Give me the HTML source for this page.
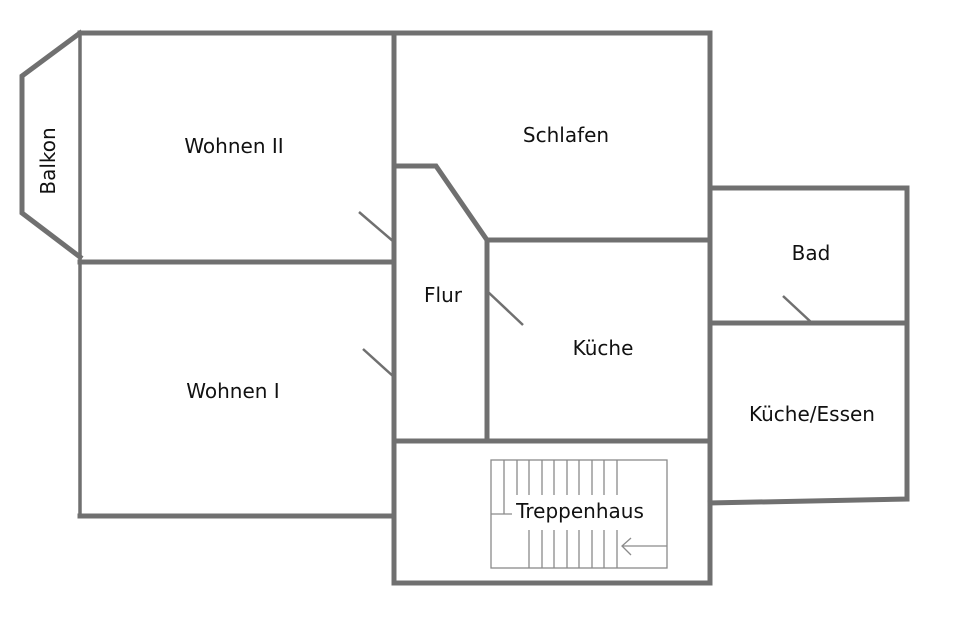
<!DOCTYPE html>
<html><head><meta charset="utf-8"><style>
html,body{margin:0;padding:0;background:#fff;}
svg{display:block}
text{font-family:"DejaVu Sans","Liberation Sans",sans-serif;font-size:20px;fill:#111;}
</style></head><body>
<svg width="960" height="640" viewBox="0 0 960 640" xmlns="http://www.w3.org/2000/svg">
<g stroke="#707070" stroke-width="5" fill="none" stroke-linecap="square">
<polyline points="80,33 22,76 22,213 80,257"/>
<line x1="80" y1="33" x2="80" y2="516" stroke-width="3.5"/>
<line x1="80" y1="33" x2="710" y2="33"/>
<line x1="80" y1="262" x2="394" y2="262"/>
<line x1="80" y1="516" x2="394" y2="516"/>
<line x1="394" y1="33" x2="394" y2="583"/>
<line x1="394" y1="583" x2="710" y2="583"/>
<line x1="710" y1="33" x2="710" y2="583"/>
<polyline points="394,166 436,166 487,240 710,240"/>
<line x1="487" y1="240" x2="487" y2="441"/>
<line x1="394" y1="441" x2="710" y2="441"/>
<polyline points="710,188 907,188 907,499 710,503"/>
<line x1="710" y1="323" x2="907" y2="323"/>
</g>
<g stroke="#707070" stroke-width="2.5">
<line x1="359" y1="212" x2="394" y2="242"/>
<line x1="363" y1="349" x2="394" y2="377"/>
<line x1="487" y1="291" x2="523" y2="325"/>
<line x1="783" y1="296" x2="812" y2="323"/>
</g>
<g stroke="#8a8a8a" stroke-width="1.3" fill="none">
<rect x="491" y="460" width="176" height="108"/>
<line x1="504" y1="460" x2="504" y2="514"/>
<line x1="491" y1="514" x2="512" y2="514"/>
<line x1="517" y1="460" x2="517" y2="495"/>
<line x1="529" y1="460" x2="529" y2="495"/>
<line x1="542" y1="460" x2="542" y2="495"/>
<line x1="554" y1="460" x2="554" y2="495"/>
<line x1="567" y1="460" x2="567" y2="495"/>
<line x1="579" y1="460" x2="579" y2="495"/>
<line x1="592" y1="460" x2="592" y2="495"/>
<line x1="604" y1="460" x2="604" y2="495"/>
<line x1="617" y1="460" x2="617" y2="495"/>
<line x1="529" y1="530" x2="529" y2="568"/>
<line x1="542" y1="530" x2="542" y2="568"/>
<line x1="554" y1="530" x2="554" y2="568"/>
<line x1="567" y1="530" x2="567" y2="568"/>
<line x1="579" y1="530" x2="579" y2="568"/>
<line x1="592" y1="530" x2="592" y2="568"/>
<line x1="604" y1="530" x2="604" y2="568"/>
<line x1="617" y1="530" x2="617" y2="568"/>
<line x1="622" y1="546" x2="667" y2="546"/>
<polyline points="631,538 622,546 631,555"/>
</g>
<text x="234" y="153" text-anchor="middle">Wohnen II</text>
<text x="566" y="142" text-anchor="middle">Schlafen</text>
<text x="443" y="302" text-anchor="middle">Flur</text>
<text x="603" y="355" text-anchor="middle">Küche</text>
<text x="811" y="260" text-anchor="middle">Bad</text>
<text x="812" y="421" text-anchor="middle">Küche/Essen</text>
<text x="233" y="398" text-anchor="middle">Wohnen I</text>
<text x="580" y="518" text-anchor="middle">Treppenhaus</text>
<text x="0" y="0" text-anchor="middle" transform="translate(55,161) rotate(-90)">Balkon</text>
</svg>
</body></html>
